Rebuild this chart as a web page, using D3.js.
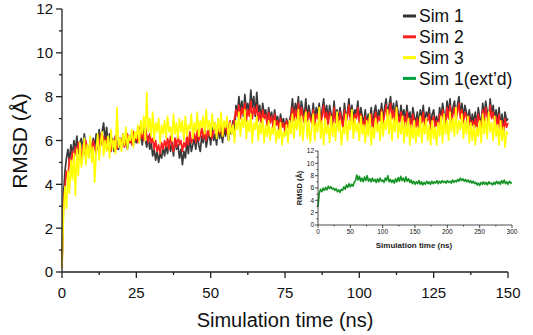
<!DOCTYPE html>
<html>
<head>
<meta charset="utf-8">
<script src="https://cdn.jsdelivr.net/npm/d3@7"></script>
<style>
    body { margin: 0; background: #fff; }
    svg { display: block; font-family: Arial, "Liberation Sans", sans-serif; }
</style>
</head>
<body>
<div id="chart"></div>
<script>
// RMSD traces, values (0.5 ns steps for main, 2 ns steps for inset)
const timeStep = 0.5
const insetStep = 2

const sim1 = [
    0.3, 3.5, 4.6, 5.2, 5.6, 5.0, 5.8, 5.3, 6.0, 5.5,
    6.2, 5.4, 5.9, 6.1, 5.5, 6.3, 5.6, 5.8, 5.3, 6.0,
    5.4, 6.1, 5.7, 6.3, 5.6, 6.5, 5.9, 6.4, 6.8, 6.0,
    6.6, 5.8, 6.3, 5.6, 6.1, 5.5, 6.2, 5.9, 5.6, 6.1,
    5.7, 6.3, 5.8, 6.0, 5.6, 6.2, 5.9, 6.4, 5.8, 6.1,
    5.9, 6.5, 6.0, 6.3, 5.8, 6.6, 6.1, 5.7, 6.2, 5.6,
    5.9, 5.3, 5.6, 5.1, 5.5, 5.0, 5.4, 5.2, 5.7, 5.3,
    5.8, 5.4, 6.0, 5.5, 5.9, 5.3, 6.1, 5.6, 5.8, 5.2,
    5.6, 4.9, 5.5, 5.2, 5.9, 5.4, 6.2, 5.5, 5.8, 6.1,
    5.6, 6.3, 5.8, 5.5, 6.2, 5.9, 6.5, 5.7, 6.1, 6.4,
    5.8, 6.6, 6.0, 6.3, 5.8, 6.7, 6.1, 6.4, 5.9, 6.6,
    6.2, 6.8, 6.0, 6.5, 6.3, 6.9, 6.2, 7.6, 7.2, 8.0,
    7.3, 7.8, 7.1, 8.1, 7.4, 7.7, 7.2, 8.3, 7.5, 8.0,
    7.1, 8.2, 7.3, 7.6, 6.9, 7.7, 7.2, 7.4, 6.8, 7.5,
    7.0, 7.3, 6.7, 7.4, 6.9, 7.1, 6.6, 7.2, 6.8, 7.0,
    6.5, 7.0, 6.7, 6.9, 7.2, 7.9, 7.1, 7.7, 7.3, 8.0,
    7.0, 7.8, 7.4, 7.1, 7.9, 6.9, 7.6, 7.2, 7.0, 7.7,
    6.9, 7.5, 7.2, 7.7, 6.8, 7.4, 7.9, 7.1, 7.6, 6.9,
    7.6, 7.2, 6.8, 7.8, 7.0, 7.4, 6.9, 7.5, 7.1, 6.8,
    7.7, 7.0, 7.3, 7.9, 7.1, 7.6, 7.0, 7.4, 7.2, 7.8,
    6.9, 7.5, 7.1, 6.8, 7.4, 6.7, 7.2, 7.0, 7.5, 6.6,
    7.3, 7.6, 6.9, 7.4, 7.1, 7.7, 6.9, 7.5, 7.9, 7.1,
    7.6, 8.0, 7.2, 7.7, 7.0, 7.8, 7.3, 6.9, 7.6, 7.1,
    7.4, 6.8, 7.6, 7.0, 7.3, 6.7, 7.5, 7.1, 6.8, 7.3,
    6.7, 7.4, 7.0, 7.6, 6.8, 7.3, 7.1, 7.5, 6.7, 7.2,
    7.4, 6.8, 7.1, 6.6, 7.5, 7.0, 7.7, 7.2, 6.9, 7.8,
    7.2, 7.9, 7.0, 7.5, 7.8, 7.1, 7.6, 8.0, 7.2, 7.7,
    7.0, 7.6, 7.3, 6.9, 7.4, 6.7, 7.2, 6.8, 7.3, 6.6,
    7.5, 7.0, 6.8, 7.7, 7.1, 7.8, 7.3, 6.9, 7.9, 7.2,
    7.6, 7.0, 7.4, 6.8, 7.5, 6.6, 7.2, 6.5, 7.3, 6.9,
    7.0]

const sim2 = [
    0.2, 3.0, 3.9, 4.6, 4.3, 5.2, 4.8, 5.5, 5.1, 5.7,
    5.3, 5.9, 5.5, 5.2, 5.8, 5.4, 6.0, 5.6, 5.4, 5.9,
    5.5, 6.0, 5.7, 5.4, 6.1, 5.6, 6.3, 5.8, 6.2, 5.7,
    6.1, 5.6, 5.9, 5.5, 6.0, 5.8, 6.2, 5.6, 5.9, 6.1,
    5.8, 6.2, 5.7, 6.0, 6.3, 5.9, 6.1, 5.8, 6.4, 6.0,
    6.3, 5.9, 6.6, 6.1, 6.4, 6.0, 6.7, 6.2, 5.9, 6.3,
    5.9, 6.1, 5.6, 6.0, 5.5, 5.8, 5.4, 5.9, 5.6, 6.0,
    5.7, 6.1, 5.6, 6.2, 5.8, 5.5, 6.1, 5.7, 6.3, 5.8,
    6.0, 5.5, 5.9, 5.7, 6.2, 5.8, 6.4, 5.9, 6.1, 6.3,
    5.9, 6.5, 6.0, 6.2, 6.6, 6.1, 6.4, 6.0, 6.5, 6.2,
    6.7, 6.1, 6.4, 6.8, 6.2, 6.6, 6.3, 6.9, 6.2, 6.5,
    6.8, 6.3, 6.6, 6.9, 6.4, 6.7, 7.0, 7.4, 7.1, 7.6,
    7.0, 7.5, 7.2, 7.7, 6.9, 7.4, 7.1, 7.8, 7.0, 7.5,
    7.2, 7.6, 6.9, 7.3, 6.8, 7.4, 7.0, 7.2, 6.7, 7.3,
    6.8, 7.1, 6.6, 7.2, 6.7, 6.9, 6.5, 7.0, 6.6, 6.8,
    6.4, 6.9, 6.6, 6.8, 7.1, 7.5, 6.9, 7.4, 7.0, 7.7,
    6.9, 7.5, 7.1, 6.8, 7.4, 6.9, 7.3, 7.0, 6.8, 7.4,
    6.7, 7.2, 7.0, 7.5, 6.8, 7.1, 7.6, 6.9, 7.3, 6.7,
    7.3, 7.0, 6.7, 7.5, 6.8, 7.2, 6.7, 7.3, 6.9, 6.6,
    7.4, 6.8, 7.1, 7.6, 6.9, 7.3, 6.8, 7.2, 7.0, 7.5,
    6.8, 7.2, 6.9, 6.6, 7.1, 6.5, 7.0, 6.8, 7.2, 6.5,
    7.0, 7.3, 6.7, 7.1, 6.9, 7.4, 6.8, 7.2, 7.6, 6.9,
    7.3, 7.7, 7.0, 7.4, 6.8, 7.5, 7.1, 6.8, 7.3, 6.9,
    7.1, 6.6, 7.3, 6.8, 7.0, 6.5, 7.2, 6.9, 6.6, 7.0,
    6.5, 7.1, 6.8, 7.3, 6.6, 7.0, 6.9, 7.2, 6.5, 6.9,
    7.1, 6.6, 6.9, 6.5, 7.2, 6.8, 7.4, 7.0, 6.7, 7.5,
    7.0, 7.6, 6.8, 7.2, 7.5, 6.9, 7.3, 7.7, 7.0, 7.4,
    6.8, 7.3, 7.1, 6.7, 7.1, 6.5, 6.9, 6.6, 7.0, 6.5,
    7.2, 6.8, 6.6, 7.4, 6.9, 7.5, 7.1, 6.7, 7.6, 7.0,
    7.3, 6.8, 7.1, 6.6, 7.2, 6.4, 6.9, 6.3, 7.0, 6.6,
    6.8]

const sim3 = [
    0.2, 2.6, 3.9, 2.9, 4.6, 3.6, 5.1, 4.2, 5.4, 3.5,
    5.6, 4.4, 5.9, 4.8, 5.3, 6.1, 4.9, 5.8, 5.2, 6.2,
    5.0, 5.7, 4.1, 5.5, 6.3, 5.1, 5.9, 6.4, 5.3, 6.0,
    5.5, 6.2, 5.2, 6.5, 5.6, 6.0, 5.4, 7.5, 5.7, 6.1,
    5.5, 6.3, 5.8, 6.6, 5.6, 6.2, 6.0, 6.5, 5.7, 6.4,
    6.1, 6.7, 5.9, 6.9, 6.3, 7.1, 6.0, 8.2, 6.4, 7.0,
    6.2, 7.3, 6.0, 6.8, 6.4, 7.0, 5.9, 6.7, 6.3, 6.9,
    6.1, 7.1, 6.4, 6.6, 6.0, 7.2, 6.3, 6.8, 6.1, 7.0,
    6.4, 6.9, 6.0, 7.1, 6.2, 6.7, 6.5, 7.2, 6.1, 6.8,
    6.4, 7.3, 6.2, 6.9, 6.6, 7.1, 6.3, 7.4, 6.5, 6.9,
    6.2, 7.2, 6.5, 6.8, 6.1, 7.0, 6.4, 7.3, 6.2, 6.9,
    6.6, 7.1, 6.0, 6.8, 6.3, 6.7, 5.9, 6.9, 6.5, 7.3,
    6.2, 7.0, 6.6, 7.4, 6.1, 6.9, 6.4, 7.2, 5.9, 6.8,
    6.5, 7.1, 6.0, 6.8, 6.3, 7.0, 5.9, 6.7, 6.2, 6.9,
    6.0, 6.6, 6.3, 6.9, 5.9, 6.5, 6.1, 6.8, 5.8, 6.4,
    6.2, 6.7, 5.9, 6.9, 6.3, 7.2, 6.1, 7.0, 6.5, 7.4,
    6.2, 7.1, 6.0, 6.8, 7.3, 6.1, 6.9, 5.9, 6.6, 7.2,
    6.0, 6.8, 6.4, 7.5, 6.1, 6.9, 5.8, 7.0, 6.3, 6.7,
    5.9, 7.1, 6.2, 6.8, 6.0, 7.3, 6.4, 6.9, 5.8, 6.6,
    6.3, 7.2, 6.0, 6.9, 6.5, 7.4, 6.1, 7.0, 6.4, 6.8,
    6.0, 7.1, 6.3, 6.7, 5.9, 6.9, 6.2, 7.2, 5.8, 6.6,
    6.1, 7.0, 6.4, 6.8, 6.0, 7.3, 6.2, 6.9, 6.5, 7.4,
    6.3, 7.2, 6.0, 7.0, 6.4, 7.5, 6.1, 6.8, 6.3, 7.1,
    5.9, 6.8, 6.2, 7.0, 5.8, 6.7, 6.1, 6.9, 5.9, 6.6,
    6.2, 7.1, 5.9, 6.8, 6.3, 7.0, 6.0, 6.7, 5.8, 6.9,
    6.1, 6.6, 5.8, 6.8, 6.2, 7.1, 5.9, 7.2, 6.3, 6.9,
    6.0, 7.3, 6.4, 7.0, 6.2, 7.5, 6.3, 6.9, 6.5, 7.2,
    6.1, 6.9, 6.3, 7.1, 5.9, 6.8, 6.0, 6.7, 5.8, 6.6,
    6.2, 6.9, 5.9, 7.2, 6.3, 7.0, 6.1, 7.3, 6.4, 6.8,
    6.0, 7.1, 6.2, 6.7, 5.8, 6.9, 6.0, 6.6, 5.7, 6.4,
    6.3]

// Sim 1 extended to 300 ns (inset)
const sim1ext = [3.0, 5.2, 5.8, 5.4, 6.0, 5.6, 6.1, 5.7, 6.3, 5.9, 6.2, 5.8, 6.0, 5.6, 5.9, 5.4,
    5.7, 5.3, 5.8, 5.6, 6.2, 5.8, 6.5, 6.1, 6.7, 6.2, 6.6, 6.3, 6.9, 7.2, 8.1, 7.3, 7.9, 7.1,
    7.6, 7.0, 7.8, 7.2, 8.0, 7.1, 7.5, 7.0, 7.6, 7.1, 7.4, 6.9, 7.5, 7.0, 7.6, 7.1, 7.3, 6.9,
    7.6, 7.2, 8.0, 7.0, 7.4, 6.9, 7.3, 6.8, 7.5, 7.0, 7.7, 7.1, 7.9, 7.2, 7.6, 7.0, 7.8, 7.1,
    7.5, 6.9, 7.3, 6.7, 7.1, 6.6, 7.0, 6.7, 7.2, 6.6, 7.0, 6.5, 6.9, 6.6, 7.1, 6.7, 7.0, 6.6,
    7.1, 6.7, 7.0, 6.8, 7.2, 6.7, 7.1, 6.8, 7.2, 6.9, 7.1, 6.8, 7.2, 6.9, 7.1, 6.8, 7.3, 6.9,
    7.2, 7.0, 7.4, 7.1, 7.6, 7.2, 7.5, 7.1, 7.4, 7.0, 7.3, 6.9, 7.2, 6.8, 7.1, 6.7, 6.9, 6.5,
    6.8, 6.4, 6.9, 6.6, 7.0, 6.6, 6.9, 6.5, 7.0, 6.7, 6.8, 6.5, 6.9, 6.6, 7.1, 6.7, 7.0, 6.6,
    7.2, 6.8, 7.3, 6.7, 7.0, 6.6, 7.1, 6.8, 6.9]

const seriesNames = ["Sim 1", "Sim 2", "Sim 3"]
const seriesColors = ["#3a3a3a", "#ff1f1f", "#ffff00"]
const legendNames = ["Sim 1", "Sim 2", "Sim 3", "Sim 1(ext\u2019d)"]
const legendColors = ["#333333", "#ff1f1f", "#ffff00", "#00a040"]
const extColor = "#169426"

const yTicks = [0, 2, 4, 6, 8, 10, 12]
const yMinor = [1, 3, 5, 7, 9, 11]
const xTicks = [0, 25, 50, 75, 100, 125, 150]
const xMinor = [12.5, 37.5, 62.5, 87.5, 112.5, 137.5]
const insetXTicks = [0, 50, 100, 150, 200, 250, 300]
const insetXMinor = [25, 75, 125, 175, 225, 275]

const width = 533
const height = 335

const svg = d3.select("#chart").append("svg")
    .attr("width", width)
    .attr("height", height)

// main scales
const x = d3.scaleLinear().domain([0, 150]).range([62, 508])
const y = d3.scaleLinear().domain([0, 12]).range([272, 9])

function toPoints(values, step) {
    return values.map((v, i) => [i * step, v])
}

function drawTraces(g, xs, ys, list, width) {
    const line = d3.line().x(d => xs(d[0])).y(d => ys(d[1]))
    g.selectAll("path.trace")
        .data(list)
        .join("path")
        .attr("class", "trace")
        .attr("fill", "none")
        .attr("stroke", d => d.color)
        .attr("stroke-width", width)
        .attr("stroke-linejoin", "round")
        .attr("d", d => line(d.points))
}

function drawAxes(g, xs, ys, opt) {
    const xAxis = g.append("g").attr("transform", `translate(0,${ys(0)})`)
    xAxis.append("line").attr("x1", xs.range()[0]).attr("x2", xs.range()[1])
        .attr("stroke", "#222").attr("stroke-width", opt.lw)
    xAxis.selectAll("line.maj").data(opt.xTicks).join("line").attr("class", "maj")
        .attr("x1", d => xs(d)).attr("x2", d => xs(d)).attr("y1", 0).attr("y2", opt.major)
        .attr("stroke", "#222").attr("stroke-width", opt.lw)
    xAxis.selectAll("line.min").data(opt.xMinor).join("line").attr("class", "min")
        .attr("x1", d => xs(d)).attr("x2", d => xs(d)).attr("y1", 0).attr("y2", opt.minor)
        .attr("stroke", "#222").attr("stroke-width", opt.lw)
    xAxis.selectAll("text").data(opt.xTicks).join("text")
        .attr("x", d => xs(d)).attr("y", opt.xLabelDy)
        .attr("text-anchor", "middle")
        .attr("font-size", opt.fs)
        .attr("font-weight", opt.fw)
        .attr("fill", "#111")
        .text(d => d)

    const yAxis = g.append("g").attr("transform", `translate(${xs(0)},0)`)
    yAxis.append("line").attr("y1", ys.range()[0]).attr("y2", ys.range()[1])
        .attr("stroke", "#222").attr("stroke-width", opt.lw)
    yAxis.selectAll("line.maj").data(yTicks).join("line").attr("class", "maj")
        .attr("y1", d => ys(d)).attr("y2", d => ys(d)).attr("x1", 0).attr("x2", -opt.major)
        .attr("stroke", "#222").attr("stroke-width", opt.lw)
    yAxis.selectAll("line.min").data(yMinor).join("line").attr("class", "min")
        .attr("y1", d => ys(d)).attr("y2", d => ys(d)).attr("x1", 0).attr("x2", -opt.minor)
        .attr("stroke", "#222").attr("stroke-width", opt.lw)
    yAxis.selectAll("text").data(yTicks).join("text")
        .attr("x", -opt.yLabelDx).attr("y", d => ys(d))
        .attr("dy", "0.36em")
        .attr("text-anchor", "end")
        .attr("font-size", opt.fs)
        .attr("font-weight", opt.fw)
        .attr("fill", "#111")
        .text(d => d)
}

// main traces: sim1 underneath, sim3 on top
const main = svg.append("g")
const traces = [sim1, sim2, sim3].map((v, i) => ({
    name: seriesNames[i], color: seriesColors[i], points: toPoints(v, timeStep)
}))
drawTraces(main, x, y, traces, 1.7)

drawAxes(main, x, y, {
    xTicks: xTicks, xMinor: xMinor, major: 6, minor: 3, lw: 1.3,
    fs: 15, fw: "normal", xLabelDy: 26, yLabelDx: 9
})

svg.append("text")
    .attr("x", 285).attr("y", 327)
    .attr("text-anchor", "middle")
    .attr("font-size", 20)
    .attr("fill", "#111")
    .text("Simulation time (ns)")

svg.append("text")
    .attr("transform", "translate(27,141) rotate(-90)")
    .attr("text-anchor", "middle")
    .attr("font-size", 21)
    .attr("fill", "#111")
    .text("RMSD (\u00c5)")

// legend
const legend = svg.append("g").attr("transform", "translate(403,16)")
const item = legend.selectAll("g").data(legendNames).join("g")
    .attr("transform", (d, i) => `translate(0,${i * 20.8})`)
item.append("line")
    .attr("x1", 0).attr("x2", 13)
    .attr("stroke", (d, i) => legendColors[i])
    .attr("stroke-width", 3)
item.append("text")
    .attr("x", 16).attr("dy", "0.36em")
    .attr("font-size", 17.5)
    .attr("fill", "#111")
    .text(d => d)

// inset: extended sim 1 run
const ix = d3.scaleLinear().domain([0, 300]).range([318, 512])
const iy = d3.scaleLinear().domain([0, 12]).range([225, 151])
const inset = svg.append("g")
drawTraces(inset, ix, iy, [{ name: "Sim 1(ext'd)", color: extColor, points: toPoints(sim1ext, insetStep) }], 1.6)
drawAxes(inset, ix, iy, {
    xTicks: insetXTicks, xMinor: insetXMinor, major: 3, minor: 1.5, lw: 0.8,
    fs: 6.5, fw: "normal", xLabelDy: 9, yLabelDx: 4
})
inset.append("text")
    .attr("x", 414).attr("y", 248)
    .attr("text-anchor", "middle")
    .attr("font-size", 8)
    .attr("font-weight", "bold")
    .attr("fill", "#222")
    .text("Simulation time (ns)")
inset.append("text")
    .attr("transform", "translate(302,188) rotate(-90)")
    .attr("text-anchor", "middle")
    .attr("font-size", 7.5)
    .attr("font-weight", "bold")
    .attr("fill", "#222")
    .text("RMSD (\u00c5)")
</script>
</body>
</html>
